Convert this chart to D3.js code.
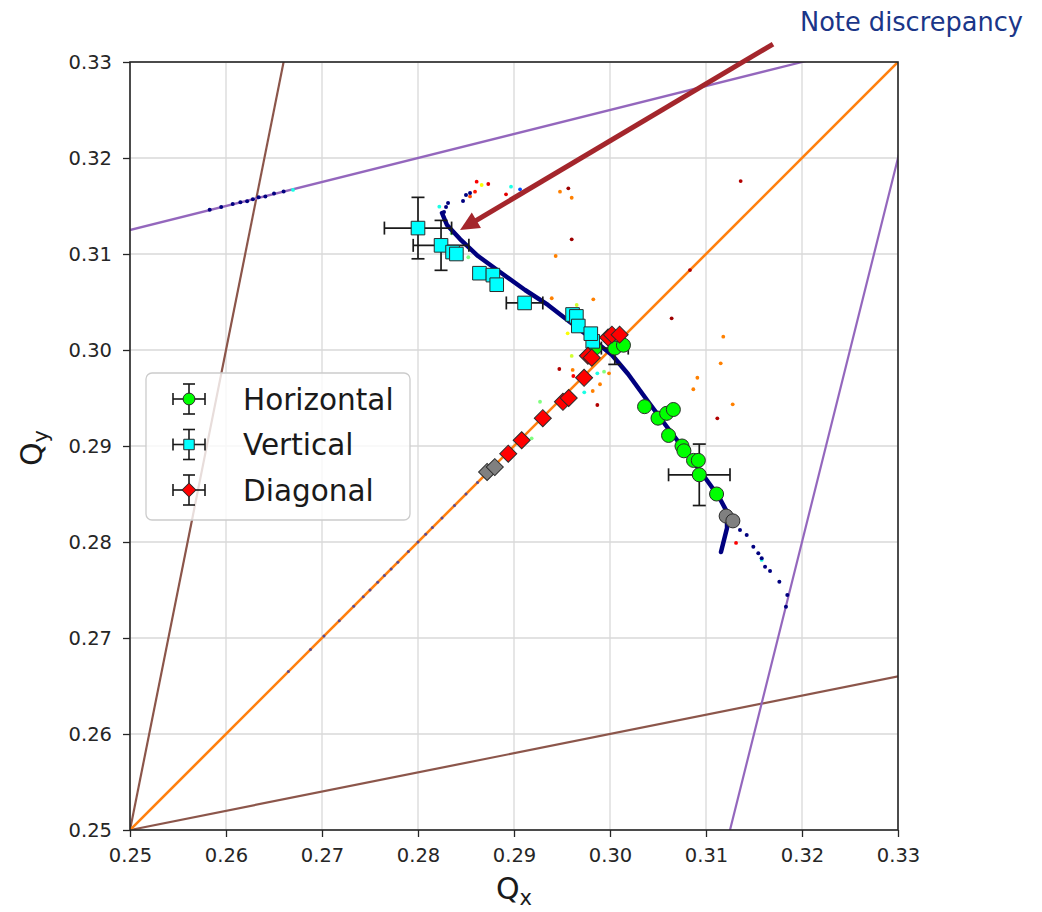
<!DOCTYPE html>
<html>
<head>
<meta charset="utf-8">
<script src="https://cdn.jsdelivr.net/npm/d3@7"></script>
<style>
  body { margin: 0; background: #fff; }
  svg text { font-family: "DejaVu Sans", sans-serif; }
</style>
</head>
<body>
<div id="chart"></div>
<script>
// measured tunes (Qx, Qy)
const horizontal = [
  [0.2984, 0.3002], [0.3005, 0.3002], [0.3014, 0.3005], [0.3036, 0.2941],
  [0.3050, 0.2929], [0.3059, 0.2934], [0.3066, 0.2938], [0.3061, 0.2911],
  [0.3075, 0.2900], [0.3077, 0.2895], [0.3087, 0.2885], [0.3092, 0.2885],
  [0.3093, 0.2870], [0.3111, 0.2850]
];
const horizontalGray = [[0.3121, 0.2827], [0.3128, 0.2822]];
const vertical = [
  [0.2800, 0.3127], [0.2824, 0.3109], [0.2836, 0.3102], [0.2840, 0.3100],
  [0.2864, 0.3080], [0.2878, 0.3078], [0.2882, 0.3068], [0.2911, 0.3049],
  [0.2961, 0.3037], [0.2965, 0.3035], [0.2967, 0.3025], [0.2982, 0.3009],
  [0.2980, 0.3017]
];
const diagonal = [
  [0.2894, 0.2892], [0.2908, 0.2906], [0.2930, 0.2929], [0.2951, 0.2946],
  [0.2957, 0.2950], [0.2973, 0.2971], [0.2977, 0.2994], [0.2981, 0.2992],
  [0.2998, 0.3013], [0.3002, 0.3016], [0.3010, 0.3016]
];
const diagonalGray = [[0.2872, 0.2873], [0.2880, 0.2878]];

// [Qx, Qy, xerr, yerr]
const horizontalErr = [[0.3093, 0.2870, 0.0032, 0.0032], [0.3005, 0.3002, 0.0014, 0.0017]];
const verticalErr = [
  [0.2800, 0.3127, 0.0035, 0.0032], [0.2824, 0.3109, 0.0029, 0.0026],
  [0.2911, 0.3049, 0.0019, 0]
];

// resonance lines a*Qx + b*Qy = c
const resonances = [[5, -1, 1], [-1, 5, 1], [1, -1, 0], [1, -4, -1], [4, -1, 1]];

// tracked tune footprint (dense band)
const trackBand = [
  [0.2825, 0.31427], [0.28302, 0.31302], [0.28438, 0.31156], [0.28625, 0.30979],
  [0.28854, 0.30813], [0.29115, 0.30625], [0.29354, 0.30469], [0.29583, 0.30292],
  [0.29813, 0.30115], [0.30021, 0.29948], [0.30188, 0.29750], [0.30385, 0.29479],
  [0.30594, 0.29198], [0.30802, 0.28927], [0.31000, 0.28656], [0.31135, 0.28469],
  [0.31219, 0.28313], [0.31219, 0.28146], [0.31156, 0.27896]
];
const trackDots = [
  [0.28313, 0.31531], [0.28292, 0.31490], [0.28271, 0.31438], [0.28500, 0.31615],
  [0.28469, 0.31552], [0.28542, 0.31635], [0.31354, 0.28125], [0.31424, 0.28073],
  [0.31493, 0.27951], [0.31545, 0.27882], [0.31580, 0.27830], [0.31615, 0.27743],
  [0.31667, 0.27698], [0.31764, 0.27586], [0.31847, 0.27448], [0.31833, 0.27326],
  [0.2583, 0.3146], [0.2595, 0.3149], [0.2607, 0.3152], [0.2615, 0.3154],
  [0.2622, 0.3155], [0.2628, 0.3157], [0.2634, 0.3159], [0.2641, 0.3160],
  [0.2650, 0.3163], [0.2660, 0.3165]
];
const diagDots = [
  0.2665, 0.2688, 0.2702, 0.2718, 0.2733, 0.2743, 0.2750, 0.2758, 0.2765, 0.2772,
  0.2779, 0.2790, 0.2800, 0.2808, 0.2815, 0.2825, 0.2838, 0.2850, 0.2862
];
// [Qx, Qy, colour value 0..1]
const looseDots = [
  [0.28611, 0.31753, 0.88], [0.28663, 0.31719, 0.62], [0.28732, 0.31729, 0.9],
  [0.28594, 0.31649, 0.85], [0.28542, 0.31600, 0.8], [0.28969, 0.31701, 0.4],
  [0.29063, 0.31674, 0.2], [0.28917, 0.31622, 0.9], [0.29566, 0.31684, 0.97],
  [0.29479, 0.31649, 0.75], [0.29601, 0.31586, 0.75], [0.29601, 0.31153, 0.97],
  [0.29434, 0.30979, 0.75], [0.28222, 0.31493, 0.4], [0.29393, 0.30539, 0.75],
  [0.29826, 0.30528, 0.75], [0.29653, 0.30469, 0.58], [0.29601, 0.29938, 0.58],
  [0.29559, 0.30174, 0.62], [0.30642, 0.30330, 0.97], [0.31180, 0.30139, 0.75],
  [0.31153, 0.29861, 0.75], [0.30910, 0.29711, 0.75], [0.30868, 0.29591, 0.75],
  [0.31278, 0.29434, 0.75], [0.31118, 0.29288, 0.95], [0.29611, 0.29792, 0.75],
  [0.29618, 0.29729, 0.88], [0.29896, 0.29643, 0.75], [0.29732, 0.29559, 0.4],
  [0.29820, 0.29573, 0.75], [0.29868, 0.29427, 0.95], [0.29938, 0.29774, 0.5],
  [0.29868, 0.29757, 0.4], [0.29990, 0.29757, 0.75], [0.29472, 0.29802, 0.95],
  [0.29271, 0.29461, 0.5], [0.29184, 0.29080, 0.5], [0.31361, 0.31760, 0.95],
  [0.30833, 0.30833, 0.95], [0.31313, 0.27990, 0.88], [0.31580, 0.27813, 0.4],
  [0.26698, 0.31667, 0.4], [0.28524, 0.30966, 0.5], [0.28351, 0.31216, 0.5]
];

const ticks = [0.25, 0.26, 0.27, 0.28, 0.29, 0.30, 0.31, 0.32, 0.33];
const legendNames = ['Horizontal', 'Vertical', 'Diagonal'];

const margin = {top: 62, right: 144, bottom: 82, left: 130};
const width = 768, height = 768;

const svg = d3.select('#chart').append('svg')
  .attr('width', 1042)
  .attr('height', 912);

const g = svg.append('g')
  .attr('transform', `translate(${margin.left},${margin.top})`);

const x = d3.scaleLinear().domain([0.25, 0.33]).range([0, width]);
const y = d3.scaleLinear().domain([0.25, 0.33]).range([height, 0]);

g.append('clipPath').attr('id', 'plot-clip')
  .append('rect').attr('width', width).attr('height', height);

// grid
g.append('g').selectAll('line').data(ticks).join('line')
  .attr('x1', d => x(d)).attr('x2', d => x(d))
  .attr('y1', 0).attr('y2', height)
  .attr('stroke', '#d9d9d9').attr('stroke-width', 1.3);
g.append('g').selectAll('line').data(ticks).join('line')
  .attr('y1', d => y(d)).attr('y2', d => y(d))
  .attr('x1', 0).attr('x2', width)
  .attr('stroke', '#d9d9d9').attr('stroke-width', 1.3);

const plot = g.append('g').attr('clip-path', 'url(#plot-clip)');

// resonance lines, colour by order
const orderColor = {2: '#ff7f0e', 5: '#9467bd', 6: '#8c564b'};
function ends(r) {
  const [a, b, c] = r;
  if (Math.abs(b) >= Math.abs(a)) return [[0.2, (c - a * 0.2) / b], [0.4, (c - a * 0.4) / b]];
  return [[(c - b * 0.2) / a, 0.2], [(c - b * 0.4) / a, 0.4]];
}
const line = d3.line().x(d => x(d[0])).y(d => y(d[1]));
plot.selectAll('path.res').data(resonances).join('path')
  .attr('class', 'res')
  .attr('d', d => line(ends(d)))
  .attr('fill', 'none')
  .attr('stroke', d => orderColor[Math.abs(d[0]) + Math.abs(d[1])])
  .attr('stroke-width', d => d[0] === 1 && d[1] === -1 ? 2.6 : 2.2);

// tracked particles
const jet = d3.scaleLinear()
  .domain([0, 0.125, 0.375, 0.625, 0.875, 1])
  .range(['#00007f', '#0000ff', '#00ffff', '#ffff00', '#ff0000', '#7f0000']);

plot.selectAll('circle.diag').data(diagDots).join('circle')
  .attr('class', 'diag')
  .attr('cx', d => x(d)).attr('cy', d => y(d))
  .attr('r', 1.5).attr('fill', '#5b4a8f');

plot.selectAll('circle.loose').data(looseDots).join('circle')
  .attr('class', 'loose')
  .attr('cx', d => x(d[0])).attr('cy', d => y(d[1]))
  .attr('r', 1.9).attr('fill', d => jet(d[2]));

plot.append('path')
  .attr('d', d3.line().x(d => x(d[0])).y(d => y(d[1]))(trackBand))
  .attr('fill', 'none')
  .attr('stroke', '#00007f')
  .attr('stroke-width', 4.5)
  .attr('stroke-linecap', 'round')
  .attr('stroke-linejoin', 'round');

plot.selectAll('circle.track').data(trackDots).join('circle')
  .attr('class', 'track')
  .attr('cx', d => x(d[0])).attr('cy', d => y(d[1]))
  .attr('r', 2).attr('fill', '#00007f');

// error bars
function drawErr(data) {
  const cap = 6.5;
  const eg = plot.append('g').attr('stroke', '#1a1a1a').attr('stroke-width', 1.7);
  data.forEach(d => {
    const cx = x(d[0]), cy = y(d[1]);
    if (d[2] > 0) {
      const x0 = x(d[0] - d[2]), x1 = x(d[0] + d[2]);
      eg.append('line').attr('x1', x0).attr('x2', x1).attr('y1', cy).attr('y2', cy);
      [x0, x1].forEach(v => eg.append('line').attr('x1', v).attr('x2', v).attr('y1', cy - cap).attr('y2', cy + cap));
    }
    if (d[3] > 0) {
      const y0 = y(d[1] - d[3]), y1 = y(d[1] + d[3]);
      eg.append('line').attr('y1', y0).attr('y2', y1).attr('x1', cx).attr('x2', cx);
      [y0, y1].forEach(v => eg.append('line').attr('y1', v).attr('y2', v).attr('x1', cx - cap).attr('x2', cx + cap));
    }
  });
}
drawErr(horizontalErr);
drawErr(verticalErr);

const circleSym = d3.symbol().type(d3.symbolCircle).size(155);
const squareSym = d3.symbol().type(d3.symbolSquare).size(185);
const diamondSym = d3.symbol().type(d3.symbolSquare).size(145);

function drawMarkers(data, sym, fill, rotate) {
  plot.append('g').selectAll('path').data(data).join('path')
    .attr('d', sym)
    .attr('transform', d => `translate(${x(d[0])},${y(d[1])})` + (rotate ? ' rotate(45)' : ''))
    .attr('fill', fill)
    .attr('stroke', '#2b2b2b')
    .attr('stroke-width', 1);
}
drawMarkers(horizontal, circleSym, '#00ff00', false);
drawMarkers(horizontalGray, circleSym, '#808080', false);
drawMarkers(vertical, squareSym, '#00ffff', false);
drawMarkers(diagonal, diamondSym, '#ff0000', true);
drawMarkers(diagonalGray, diamondSym, '#808080', true);

// spines
g.append('rect')
  .attr('width', width).attr('height', height)
  .attr('fill', 'none').attr('stroke', '#262626').attr('stroke-width', 1.6);

// axes
const xAxis = d3.axisBottom(x).tickValues(ticks).tickFormat(d3.format('.2f'))
  .tickSizeInner(7).tickSizeOuter(0).tickPadding(11);
const yAxis = d3.axisLeft(y).tickValues(ticks).tickFormat(d3.format('.2f'))
  .tickSizeInner(7).tickSizeOuter(0).tickPadding(11);

const gx = g.append('g').attr('transform', `translate(0,${height})`).call(xAxis);
const gy = g.append('g').call(yAxis);
[gx, gy].forEach(a => {
  a.select('.domain').remove();
  a.selectAll('line').attr('stroke', '#262626').attr('stroke-width', 1.3);
  a.selectAll('text').attr('font-family', '"DejaVu Sans", sans-serif')
    .attr('font-size', 19.5).attr('fill', '#262626');
});

// axis titles
const xt = svg.append('text')
  .attr('x', margin.left + width / 2).attr('y', 899)
  .attr('text-anchor', 'middle').attr('font-size', 30).attr('fill', '#1a1a1a');
xt.append('tspan').text('Q');
xt.append('tspan').attr('font-size', 21).attr('dy', 6).text('x');

const yt = svg.append('text')
  .attr('transform', 'translate(42,448) rotate(-90)')
  .attr('text-anchor', 'middle').attr('font-size', 30).attr('fill', '#1a1a1a');
yt.append('tspan').text('Q');
yt.append('tspan').attr('font-size', 21).attr('dy', 6).text('y');

// legend
const lg = g.append('g').attr('transform', 'translate(16,311)');
lg.append('rect')
  .attr('width', 264).attr('height', 147).attr('rx', 6)
  .attr('fill', '#fff').attr('fill-opacity', 0.8)
  .attr('stroke', '#cccccc').attr('stroke-width', 1.3);

const legendSyms = [
  [d3.symbol().type(d3.symbolCircle).size(110), '#00ff00', false],
  [d3.symbol().type(d3.symbolSquare).size(110), '#00ffff', false],
  [d3.symbol().type(d3.symbolSquare).size(95), '#ff0000', true]
];
legendNames.forEach((name, i) => {
  const row = lg.append('g').attr('transform', `translate(43,${26 + i * 45.5})`);
  const eg = row.append('g').attr('stroke', '#1a1a1a').attr('stroke-width', 1.6);
  eg.append('line').attr('x1', -16).attr('x2', 16).attr('y1', 0).attr('y2', 0);
  eg.append('line').attr('x1', 0).attr('x2', 0).attr('y1', -15).attr('y2', 15);
  [-16, 16].forEach(v => eg.append('line').attr('x1', v).attr('x2', v).attr('y1', -6).attr('y2', 6));
  [-15, 15].forEach(v => eg.append('line').attr('y1', v).attr('y2', v).attr('x1', -6).attr('x2', 6));
  row.append('path')
    .attr('d', legendSyms[i][0])
    .attr('transform', legendSyms[i][2] ? 'rotate(45)' : null)
    .attr('fill', legendSyms[i][1])
    .attr('stroke', '#2b2b2b').attr('stroke-width', 1);
  row.append('text')
    .attr('x', 54).attr('dy', '0.36em')
    .attr('font-size', 29.5).attr('fill', '#1a1a1a')
    .text(name);
});

// annotation
const tip = [x(0.28438), y(0.3125)];
const tail = [x(0.31698), y(0.33187)];
const dx = tip[0] - tail[0], dy = tip[1] - tail[1];
const len = Math.hypot(dx, dy), ux = dx / len, uy = dy / len;
const head = 19, hw = 9;
const base = [tip[0] - ux * head, tip[1] - uy * head];
g.append('line')
  .attr('x1', tail[0]).attr('y1', tail[1])
  .attr('x2', base[0] + ux * 2).attr('y2', base[1] + uy * 2)
  .attr('stroke', '#a4262c').attr('stroke-width', 5);
g.append('path')
  .attr('d', `M${tip[0]},${tip[1]}L${base[0] - uy * hw},${base[1] + ux * hw}L${base[0] + uy * hw},${base[1] - ux * hw}Z`)
  .attr('fill', '#a4262c');

svg.append('text')
  .attr('x', 800).attr('y', 31)
  .attr('font-family', '"Open Sans", "Noto Sans", sans-serif')
  .attr('font-size', 27)
  .attr('textLength', 223).attr('lengthAdjust', 'spacingAndGlyphs')
  .attr('fill', '#1a3688')
  .text('Note discrepancy');
</script>
</body>
</html>
